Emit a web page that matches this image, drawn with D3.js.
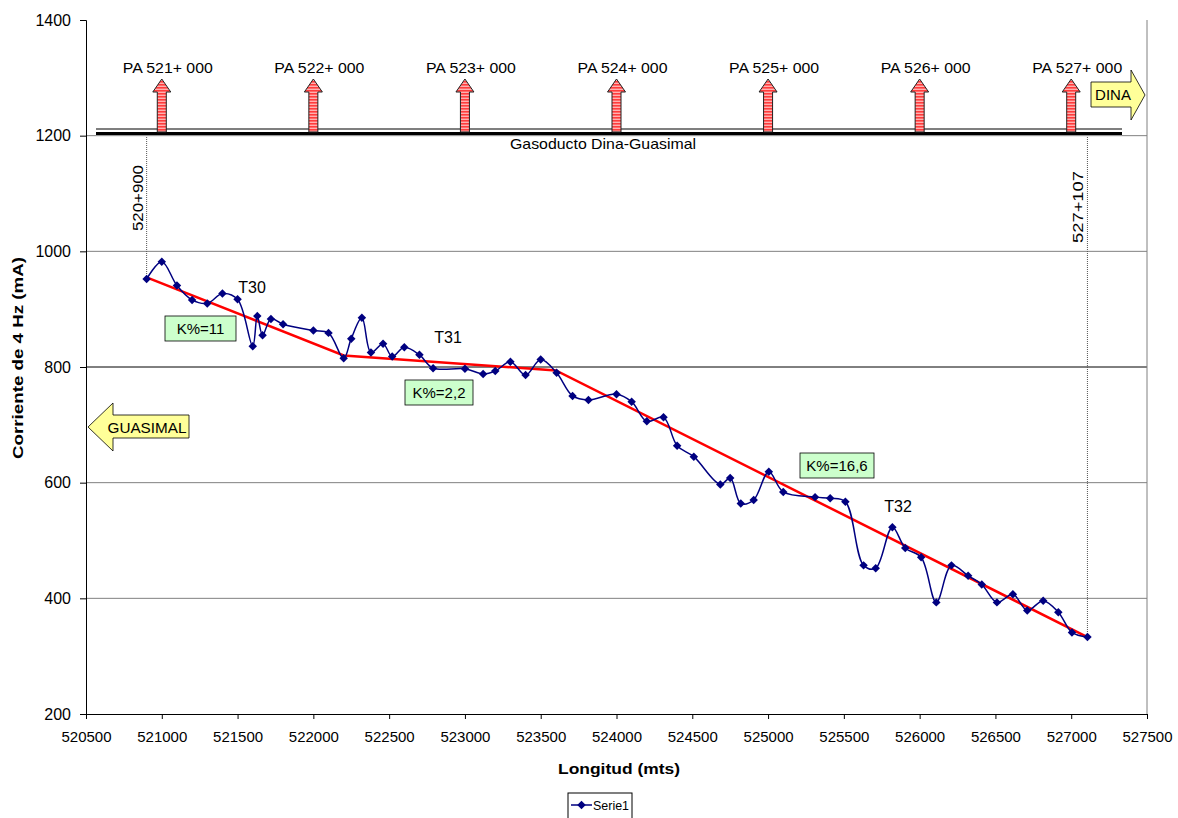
<!DOCTYPE html>
<html>
<head>
  <meta charset="utf-8">
  <script src="https://d3js.org/d3.v7.min.js"></script>
  <style>
    body { margin: 0; background: #fff; }
    text { font-family: Arial, "Liberation Sans", sans-serif; }
  </style>
</head>
<body>
<script>
  // measured current along the pipeline
  var longitud = [520900, 521000, 521100, 521200, 521300, 521400, 521500, 521600, 521630, 521665,
    521720, 521800, 522000, 522100, 522200, 522250, 522320, 522380, 522460, 522520,
    522600, 522700, 522790, 523000, 523120, 523200, 523300, 523400, 523500, 523605,
    523710, 523815, 524000, 524100, 524200, 524310, 524400, 524510, 524685, 524750,
    524820, 524905, 525005, 525100, 525310, 525410, 525510, 525630, 525710, 525820,
    525905, 526010, 526110, 526210, 526320, 526410, 526510, 526615, 526710, 526815,
    526915, 527005, 527107];
  var corriente = [952, 982, 941, 916, 910, 927, 917, 836, 888, 855,
    883, 874, 863, 859, 815, 849, 885, 825, 840, 818,
    834, 821, 798, 797, 788, 793, 809, 786, 813, 790,
    750, 743, 753, 740, 706, 713, 664, 645, 597, 608,
    564, 570, 619, 584, 575, 573, 567, 457, 452, 523,
    487, 471, 393, 457, 439, 424, 393, 407, 379, 396,
    376, 341, 333];

  // red trend segments
  var trendX = [520900, 522200, 523600, 527107];
  var trendY = [955, 820, 794, 333];

  var xTicks = d3.range(520500, 527501, 500);
  var yTicks = [200, 400, 600, 800, 1000, 1200, 1400];
  var gridY = [400, 600, 800, 1000, 1200];

  var markers = [521000, 522000, 523000, 524000, 525000, 526000, 527000];
  var markerLabels = ["PA 521+ 000", "PA 522+ 000", "PA 523+ 000", "PA 524+ 000",
    "PA 525+ 000", "PA 526+ 000", "PA 527+ 000"];

  var tramos = ["T30", "T31", "T32"];
  var kLabels = ["K%=11", "K%=2,2", "K%=16,6"];

  var W = 1178, H = 818;
  var pL = 86, pR = 1147, pT = 20, pB = 714;

  var svg = d3.select("body").append("svg")
    .attr("width", W).attr("height", H);

  var x = d3.scaleLinear().domain([520500, 527500]).range([pL, pR]);
  var y = d3.scaleLinear().domain([200, 1400]).range([pB, pT]);

  var defs = svg.append("defs");
  var pat = defs.append("pattern").attr("id", "stripes")
    .attr("patternUnits", "userSpaceOnUse").attr("width", 4).attr("height", 3);
  pat.append("rect").attr("width", 4).attr("height", 3).attr("fill", "#ffb0b0");
  pat.append("rect").attr("width", 4).attr("height", 1.6).attr("fill", "#ff3c3c");

  // grid
  svg.append("g").selectAll("line").data(gridY).enter().append("line")
    .attr("x1", pL).attr("x2", pR)
    .attr("y1", function(d) { return y(d); }).attr("y2", function(d) { return y(d); })
    .attr("stroke", function(d) { return d === 800 ? "#000" : "#808080"; })
    .attr("stroke-width", 1);
  svg.append("line").attr("x1", pR).attr("x2", pR).attr("y1", pT).attr("y2", pB)
    .attr("stroke", "#808080");

  // axes
  var xAxis = svg.append("g").attr("transform", "translate(0," + pB + ")")
    .call(d3.axisBottom(x).tickValues(xTicks).tickSize(5).tickPadding(12).tickFormat(d3.format("d")));
  var yAxis = svg.append("g").attr("transform", "translate(" + pL + ",0)")
    .call(d3.axisLeft(y).tickValues(yTicks).tickSize(6).tickPadding(9).tickFormat(d3.format("d")));
  [xAxis, yAxis].forEach(function(a) {
    a.selectAll("text").attr("font-size", 15).attr("fill", "#000")
      .attr("font-family", "Arial, 'Liberation Sans', sans-serif");
    a.selectAll("line, path").attr("stroke", "#000");
  });
  yAxis.selectAll("text").attr("font-size", 16);

  svg.append("text").attr("x", 619).attr("y", 774).attr("text-anchor", "middle")
    .attr("font-size", 15).attr("font-weight", "bold")
    .attr("textLength", 122).attr("lengthAdjust", "spacingAndGlyphs").text("Longitud  (mts)");
  svg.append("text").attr("transform", "translate(23,358) rotate(-90)")
    .attr("text-anchor", "middle").attr("font-size", 15).attr("font-weight", "bold")
    .attr("textLength", 202).attr("lengthAdjust", "spacingAndGlyphs")
    .text("Corriente de 4 Hz  (mA)");

  // pipeline
  svg.append("rect").attr("x", 96).attr("y", 132).attr("width", 1026).attr("height", 4).attr("fill", "#999");
  svg.append("line").attr("x1", 96).attr("x2", 1122).attr("y1", 129).attr("y2", 129)
    .attr("stroke", "#000").attr("stroke-width", 1.2);
  svg.append("line").attr("x1", 96).attr("x2", 1122).attr("y1", 133.5).attr("y2", 133.5)
    .attr("stroke", "#000").attr("stroke-width", 3);
  svg.append("text").attr("x", 603).attr("y", 149).attr("text-anchor", "middle")
    .attr("font-size", 15).attr("textLength", 186).attr("lengthAdjust", "spacingAndGlyphs")
    .text("Gasoducto Dina-Guasimal");

  // PA arrows
  var arrows = svg.append("g").selectAll("g").data(markers).enter().append("g")
    .attr("transform", function(d) { return "translate(" + x(d) + ",0)"; });
  arrows.append("path")
    .attr("d", "M-4.5,132 L-4.5,92 L-9,92 L0,79 L9,92 L4.5,92 L4.5,132 Z")
    .attr("fill", "url(#stripes)").attr("stroke", "#222").attr("stroke-width", 1);
  arrows.append("text").attr("y", 73).attr("font-size", 14)
    .attr("textLength", 90).attr("lengthAdjust", "spacingAndGlyphs")
    .attr("x", -39).attr("text-anchor", "start")
    .text(function(d, i) { return markerLabels[i]; });

  // direction arrows
  svg.append("path")
    .attr("d", "M1091,82 L1131,82 L1131,70 L1145,95 L1131,120 L1131,107 L1091,107 Z")
    .attr("fill", "#ffff99").attr("stroke", "#000").attr("stroke-width", 0.8);
  svg.append("text").attr("x", 1113).attr("y", 100).attr("text-anchor", "middle")
    .attr("font-size", 15).text("DINA");
  svg.append("path")
    .attr("d", "M88,427 L113,403 L113,415 L189,415 L189,438 L113,438 L113,451 Z")
    .attr("fill", "#ffff99").attr("stroke", "#000").attr("stroke-width", 0.8);
  svg.append("text").attr("x", 147).attr("y", 433).attr("text-anchor", "middle")
    .attr("font-size", 15).attr("textLength", 79).attr("lengthAdjust", "spacingAndGlyphs")
    .text("GUASIMAL");

  // start / end markers
  var ends = [0, longitud.length - 1];
  svg.append("g").selectAll("line").data(ends).enter().append("line")
    .attr("x1", function(i) { return x(longitud[i]); }).attr("x2", function(i) { return x(longitud[i]); })
    .attr("y1", 137).attr("y2", function(i) { return y(corriente[i]); })
    .attr("stroke", "#555").attr("stroke-width", 1).attr("stroke-dasharray", "1,1");
  svg.append("text").attr("transform", "translate(" + (x(520900) - 4) + ",198) rotate(-90)")
    .attr("text-anchor", "middle").attr("font-size", 14)
    .attr("textLength", 66).attr("lengthAdjust", "spacingAndGlyphs").text("520+900");
  svg.append("text").attr("transform", "translate(" + (x(527107) - 4) + ",207) rotate(-90)")
    .attr("text-anchor", "middle").attr("font-size", 14)
    .attr("textLength", 72).attr("lengthAdjust", "spacingAndGlyphs").text("527+107");

  // trend
  var pts = d3.range(longitud.length).map(function(i) { return [longitud[i], corriente[i]]; });
  var tpts = d3.range(trendX.length).map(function(i) { return [trendX[i], trendY[i]]; });
  svg.append("path").datum(tpts)
    .attr("d", d3.line().x(function(d) { return x(d[0]); }).y(function(d) { return y(d[1]); }))
    .attr("fill", "none").attr("stroke", "#ff0000").attr("stroke-width", 2.5);

  // series
  svg.append("path").datum(pts)
    .attr("d", d3.line().curve(d3.curveCatmullRom.alpha(0.5))
      .x(function(d) { return x(d[0]); }).y(function(d) { return y(d[1]); }))
    .attr("fill", "none").attr("stroke", "#000080").attr("stroke-width", 1.5);
  var diamond = d3.symbol().type(d3.symbolSquare).size(36);
  svg.append("g").selectAll("path").data(pts).enter().append("path")
    .attr("d", diamond)
    .attr("transform", function(d) { return "translate(" + x(d[0]) + "," + y(d[1]) + ") rotate(45)"; })
    .attr("fill", "#000080");

  // labels on the trend
  var tPos = [[252, 293], [448, 343], [898, 512]];
  svg.append("g").selectAll("text").data(tramos).enter().append("text")
    .attr("x", function(d, i) { return tPos[i][0]; }).attr("y", function(d, i) { return tPos[i][1]; })
    .attr("text-anchor", "middle").attr("font-size", 16).text(function(d) { return d; });

  var kPos = [[165, 316, 71], [405, 380, 68], [800, 453, 74]];
  var kg = svg.append("g").selectAll("g").data(kLabels).enter().append("g")
    .attr("transform", function(d, i) { return "translate(" + kPos[i][0] + "," + kPos[i][1] + ")"; });
  kg.append("rect").attr("width", function(d, i) { return kPos[i][2]; }).attr("height", 25)
    .attr("fill", "#ccffcc").attr("stroke", "#000").attr("stroke-width", 0.8);
  kg.append("text").attr("x", function(d, i) { return kPos[i][2] / 2; }).attr("y", 18)
    .attr("text-anchor", "middle").attr("font-size", 15).text(function(d) { return d; });

  // legend
  var lg = svg.append("g").attr("transform", "translate(568,793)");
  lg.append("rect").attr("width", 64).attr("height", 26).attr("fill", "#fff").attr("stroke", "#000");
  lg.append("line").attr("x1", 3).attr("x2", 24).attr("y1", 12).attr("y2", 12)
    .attr("stroke", "#000080").attr("stroke-width", 1.5);
  lg.append("path").attr("d", diamond).attr("transform", "translate(13.5,12) rotate(45)").attr("fill", "#000080");
  lg.append("text").attr("x", 25).attr("y", 17).attr("font-size", 13)
    .attr("textLength", 36).attr("lengthAdjust", "spacingAndGlyphs").text("Serie1");
</script>
</body>
</html>
